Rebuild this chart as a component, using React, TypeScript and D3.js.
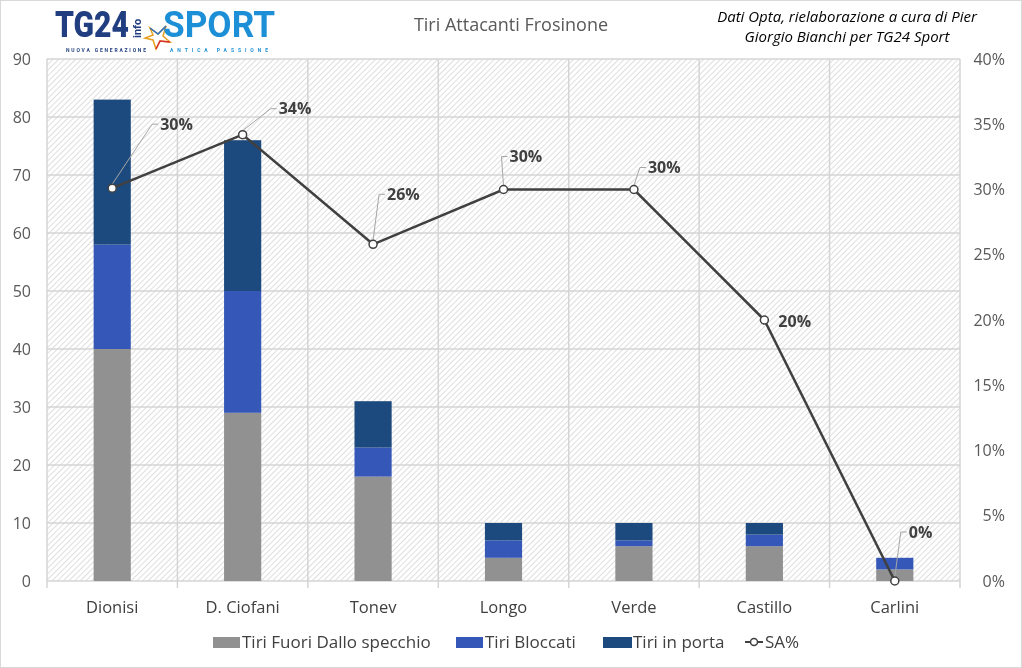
import * as d3 from 'd3'
import { useEffect } from 'react'

const players = ['Dionisi', 'D. Ciofani', 'Tonev', 'Longo', 'Verde', 'Castillo', 'Carlini']
const fuori = [40, 29, 18, 4, 6, 6, 2]
const bloccati = [18, 21, 5, 3, 1, 2, 2]
const inPorta = [25, 26, 8, 3, 3, 2, 0]
const saPct = [30.1, 34.2, 25.8, 30, 30, 20, 0]
const saLabels = ['30%', '34%', '26%', '30%', '30%', '20%', '0%']
const leftTicks = [0, 10, 20, 30, 40, 50, 60, 70, 80, 90]
const rightTicks = [0, 5, 10, 15, 20, 25, 30, 35, 40]

const seriesNames = ['Tiri Fuori Dallo specchio', 'Tiri Bloccati', 'Tiri in porta']
const seriesColors = ['#919191', '#3558b8', '#1d4a7e']

// label placement for the SA% data labels (offset from point, leader line)
const labelPos = [
  { dx: 48, dy: -64, leader: true },
  { dx: 36, dy: -26, leader: true },
  { dx: 14, dy: -50, leader: true },
  { dx: 6, dy: -33, leader: true },
  { dx: 14, dy: -22, leader: true },
  { dx: 14, dy: 1, leader: false },
  { dx: 14, dy: -49, leader: true },
]

const W = 1022
const H = 668
const M = { top: 59, right: 62, bottom: 87, left: 47 }
const FONT = "'Open Sans', 'Noto Sans', sans-serif"

export default function App() {
  useEffect(() => {
    document.body.style.margin = '0'
  }, [])

  const innerW = W - M.left - M.right
  const innerH = H - M.top - M.bottom

  const x = d3.scaleBand<string>().domain(players).range([0, innerW]).paddingInner(0.715).paddingOuter(0.3575)
  const xc = d3.scaleBand<string>().domain(players).range([0, innerW])
  const y = d3.scaleLinear().domain([0, 90]).range([innerH, 0])
  const y2 = d3.scaleLinear().domain([0, 40]).range([innerH, 0])

  const rows = players.map((p, i) => ({ p, fuori: fuori[i], bloccati: bloccati[i], inPorta: inPorta[i] }))
  const stack = d3.stack<(typeof rows)[number]>().keys(['fuori', 'bloccati', 'inPorta'])(rows as never)

  const line = d3
    .line<number>()
    .x((_, i) => xc(players[i])! + xc.bandwidth() / 2)
    .y((d) => y2(d))

  const bounds = players.map((p) => xc(p)!).concat([innerW])

  return (
    <div style={{ position: 'fixed', left: 0, top: 0 }}>
      <svg width={W} height={H} style={{ display: 'block', fontFamily: FONT }}>
        <defs>
          <pattern id="hatch" width="4" height="4" patternUnits="userSpaceOnUse" patternTransform="rotate(45)">
            <rect width="4" height="4" fill="#ffffff" />
            <line x1="0" y1="0" x2="0" y2="4" stroke="#d6d6d6" strokeWidth="1.6" />
          </pattern>
        </defs>
        <rect x={0.5} y={0.5} width={W - 1} height={H - 1} fill="#ffffff" stroke="#d9d9d9" />

        {/* logo */}
        <g>
          <text transform="translate(55,37) scale(1,1.2)" fontFamily="Roboto, sans-serif" fontWeight={900} fontSize={31} fill="#213f80" textLength={74} lengthAdjust="spacingAndGlyphs">TG24</text>
          <text transform="translate(141,38) rotate(-90)" fontFamily="Roboto, sans-serif" fontWeight={700} fontSize={11} fill="#213f80">info</text>
          <path d="M150,28 L158,34 L166,26 L163,36 L170,42 L160,41 L156,49 L153,40 L145,38 L153,35 Z" fill="#ffffff" stroke="#e8a020" strokeWidth={1.5} />
          <path d="M150,28 L158,34 L166,26" fill="none" stroke="#2a6fc0" strokeWidth={1.5} />
          <path d="M170,42 L160,41 L156,49" fill="none" stroke="#d63030" strokeWidth={1.5} />
          <text transform="translate(163,37) scale(1,1.2)" fontFamily="Roboto, sans-serif" fontWeight={700} fontSize={31} fill="#1c8fd6" textLength={112} lengthAdjust="spacingAndGlyphs">SPORT</text>
          <text x={66} y={52} fontFamily="Roboto, sans-serif" fontWeight={700} fontSize={5} fill="#213f80" textLength={80} lengthAdjust="spacing">NUOVA GENERAZIONE</text>
          <text x={170} y={52} fontFamily="Roboto, sans-serif" fontWeight={700} fontSize={5} fill="#1c8fd6" textLength={98} lengthAdjust="spacing">ANTICA PASSIONE</text>
        </g>

        <text x={511} y={31} textAnchor="middle" fontSize={18} fill="#595959">Tiri Attacanti Frosinone</text>
        <text x={847} y={22} textAnchor="middle" fontSize={15} fontStyle="italic" fill="#000000">Dati Opta, rielaborazione a cura di Pier</text>
        <text x={847} y={42} textAnchor="middle" fontSize={15} fontStyle="italic" fill="#000000">Giorgio Bianchi per TG24 Sport</text>

        <g transform={`translate(${M.left},${M.top})`}>
          <rect width={innerW} height={innerH} fill="url(#hatch)" />
          {leftTicks.map((t) => (
            <line key={t} x1={0} x2={innerW} y1={y(t)} y2={y(t)} stroke="#d4d4d4" strokeWidth={1.5} />
          ))}
          {bounds.map((b, i) => (
            <line key={i} x1={b} x2={b} y1={0} y2={innerH + 7} stroke="#d4d4d4" strokeWidth={1.5} />
          ))}

          {stack.map((s, si) => (
            <g key={si} fill={seriesColors[si]}>
              {s.map((d, i) => (
                <rect key={i} x={x(players[i])} width={x.bandwidth()} y={y(d[1])} height={y(d[0]) - y(d[1])} />
              ))}
            </g>
          ))}

          {leftTicks.map((t) => (
            <text key={t} x={-16} y={y(t)} dy="0.35em" textAnchor="end" fontSize={16} fill="#595959">{t}</text>
          ))}
          {rightTicks.map((t) => (
            <text key={t} x={innerW + 45} y={y2(t)} dy="0.35em" textAnchor="end" fontSize={16} fill="#595959">{t}%</text>
          ))}
          {players.map((p) => (
            <text key={p} x={xc(p)! + xc.bandwidth() / 2} y={innerH + 32} textAnchor="middle" fontSize={16.5} fill="#404040">{p}</text>
          ))}

          {/* leader lines */}
          {saPct.map((v, i) => {
            const cx = xc(players[i])! + xc.bandwidth() / 2
            const cy = y2(v)
            const lp = labelPos[i]
            if (!lp.leader) return null
            const lx = cx + lp.dx - 8
            const ly = cy + lp.dy
            return (
              <path key={i} d={`M${cx},${cy - 4}L${lx},${ly}L${lx + 6},${ly}`} fill="none" stroke="#a6a6a6" strokeWidth={1} />
            )
          })}

          <path d={line(saPct) ?? ''} fill="none" stroke="#404040" strokeWidth={2.5} />
          {saPct.map((v, i) => (
            <circle key={i} cx={xc(players[i])! + xc.bandwidth() / 2} cy={y2(v)} r={4} fill="#ffffff" stroke="#404040" strokeWidth={1.5} />
          ))}
          {saPct.map((v, i) => {
            const cx = xc(players[i])! + xc.bandwidth() / 2
            const lp = labelPos[i]
            return (
              <text key={i} x={cx + lp.dx} y={y2(v) + lp.dy} dy="0.35em" fontSize={16} fontWeight={700} fill="#404040">{saLabels[i]}</text>
            )
          })}
        </g>

        {/* legend */}
        <g fontSize={17} fill="#404040">
          <rect x={213} y={637} width={27} height={11} fill={seriesColors[0]} />
          <text x={242} y={642} dy="0.35em">{seriesNames[0]}</text>
          <rect x={456} y={637} width={27} height={11} fill={seriesColors[1]} />
          <text x={485} y={642} dy="0.35em">{seriesNames[1]}</text>
          <rect x={603} y={637} width={29} height={11} fill={seriesColors[2]} />
          <text x={633} y={642} dy="0.35em">{seriesNames[2]}</text>
          <line x1={745} x2={763} y1={642} y2={642} stroke="#404040" strokeWidth={2} />
          <circle cx={754} cy={642} r={3.5} fill="#ffffff" stroke="#404040" strokeWidth={1.5} />
          <text x={765} y={642} dy="0.35em">SA%</text>
        </g>
      </svg>
    </div>
  )
}
